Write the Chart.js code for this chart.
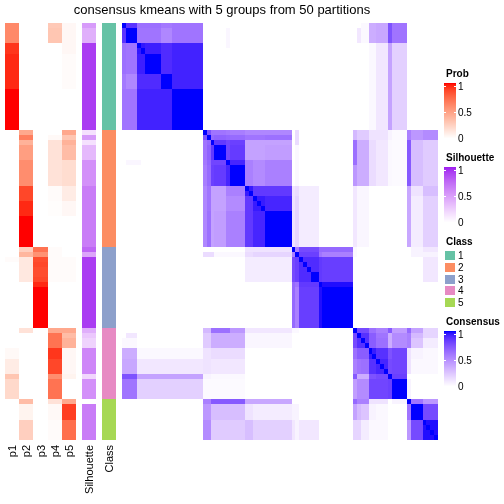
<!DOCTYPE html>
<html>
<head>
<meta charset="utf-8">
<script src="https://cdn.jsdelivr.net/npm/chart.js@4.4.0/dist/chart.umd.min.js"></script>
<style>
  html, body { margin: 0; padding: 0; background: #fff; }
</style>
</head>
<body>
<canvas id="chart" width="504" height="504"></canvas>
<script>
// ---- data ----
const titleText = 'consensus kmeans with 5 groups from 50 partitions';
const classSizes = [21, 23, 16, 14, 8];
const classLabels = ['1', '2', '3', '4', '5'];
const classColors = ['#66C2A5', '#FC8D62', '#8DA0CB', '#E78AC3', '#A6D854'];
const annLabels = ['p1', 'p2', 'p3', 'p4', 'p5', 'Silhouette', 'Class'];
const legendTicks = [0, 0.5, 1];

// sub-groups of consecutive samples (same order as the matrix)
const groupSizes = [1, 3, 1, 1, 4, 3, 8,  1, 1, 1, 3, 1, 4, 2, 3, 7,  1, 1, 1, 1, 1, 2, 1, 8,  1, 1, 1, 1, 2, 3, 1, 4,  1, 3, 4];

// consensus between sub-groups, lower triangle (row g holds groups 0..g)
const groupConsensus = [
  [1],
  [0.87, 1],
  [0.62, 0.6, 1],
  [0.62, 0.6, 0.96, 1],
  [0.62, 0.6, 0.94, 0.94, 1],
  [0.58, 0.52, 0.9, 0.9, 0.9, 1],
  [0.6, 0.6, 0.93, 0.93, 0.93, 0.93, 1],
  [0, 0, 0, 0, 0, 0, 0, 1],
  [0, 0, 0, 0, 0, 0, 0, 0.75, 1],
  [0, 0, 0, 0, 0, 0, 0, 0.6, 0.65, 1],
  [0, 0, 0, 0, 0, 0, 0, 0.6, 0.68, 0.85, 1],
  [0, 0.04, 0.04, 0, 0, 0, 0, 0.58, 0.66, 0.8, 0.8, 1],
  [0, 0, 0, 0, 0, 0, 0, 0.56, 0.64, 0.82, 0.84, 0.92, 1],
  [0, 0, 0, 0, 0, 0, 0, 0.52, 0.6, 0.4, 0.4, 0.55, 0.55, 0.95],
  [0, 0, 0, 0, 0, 0, 0, 0.52, 0.6, 0.4, 0.4, 0.5, 0.5, 0.85, 0.95],
  [0, 0, 0, 0, 0, 0, 0, 0.52, 0.62, 0.4, 0.42, 0.55, 0.55, 0.85, 0.92, 1],
  [0, 0, 0, 0, 0, 0, 0, 0, 0, 0, 0, 0, 0, 0.12, 0.12, 0.12, 1],
  [0, 0, 0, 0, 0, 0, 0, 0.15, 0.15, 0.15, 0.03, 0.03, 0.03, 0.15, 0.18, 0.18, 0.55, 1],
  [0, 0, 0, 0, 0, 0, 0, 0, 0, 0, 0, 0, 0, 0.08, 0.08, 0.08, 0.78, 0.82, 1],
  [0, 0, 0, 0, 0, 0, 0, 0, 0, 0, 0, 0, 0, 0.08, 0.08, 0.08, 0.78, 0.82, 0.9, 1],
  [0, 0, 0, 0, 0, 0, 0, 0, 0, 0, 0, 0, 0, 0.08, 0.08, 0.08, 0.78, 0.82, 0.9, 0.9, 1],
  [0, 0, 0, 0, 0, 0, 0, 0, 0, 0, 0, 0, 0, 0.08, 0.08, 0.08, 0.78, 0.82, 0.9, 0.9, 0.9, 1],
  [0, 0, 0, 0, 0, 0, 0, 0, 0, 0, 0, 0, 0, 0, 0, 0, 0.65, 0.6, 0.85, 0.85, 0.85, 0.85, 1],
  [0, 0, 0, 0, 0, 0, 0, 0, 0, 0, 0, 0, 0, 0, 0, 0, 0.65, 0.55, 0.83, 0.83, 0.83, 0.83, 0.98, 1],
  [0, 0, 0, 0, 0, 0, 0, 0.3, 0.3, 0.62, 0.62, 0.62, 0.45, 0.1, 0.1, 0.1, 0.03, 0.03, 0, 0, 0, 0, 0, 0, 1],
  [0, 0.1, 0, 0, 0, 0, 0, 0.22, 0.22, 0.35, 0.35, 0.35, 0.35, 0.04, 0.04, 0.04, 0, 0, 0, 0, 0, 0, 0, 0, 0.78, 1],
  [0.03, 0.03, 0, 0, 0, 0, 0, 0.22, 0.22, 0.35, 0.35, 0.35, 0.35, 0.04, 0.04, 0.04, 0, 0, 0, 0, 0, 0, 0, 0, 0.78, 0.88, 1],
  [0.03, 0.03, 0, 0, 0, 0, 0, 0.22, 0.22, 0.35, 0.35, 0.35, 0.35, 0.04, 0.04, 0.04, 0, 0, 0, 0, 0, 0, 0, 0, 0.78, 0.88, 0.88, 1],
  [0.35, 0.35, 0.03, 0.03, 0.03, 0.03, 0.03, 0.12, 0.12, 0.15, 0.15, 0.15, 0.15, 0, 0, 0, 0, 0, 0, 0, 0, 0, 0, 0, 0.62, 0.7, 0.7, 0.7, 0.95],
  [0.38, 0.38, 0.1, 0.1, 0.1, 0.1, 0.1, 0.12, 0.12, 0.1, 0.1, 0.1, 0.1, 0, 0, 0, 0, 0, 0, 0, 0, 0, 0, 0, 0.55, 0.6, 0.62, 0.62, 0.88, 0.92],
  [0.75, 0.75, 0.4, 0.4, 0.4, 0.4, 0.4, 0.05, 0.05, 0.03, 0.03, 0.03, 0.03, 0, 0, 0, 0, 0, 0, 0, 0, 0, 0, 0, 0.72, 0.35, 0.35, 0.35, 0.75, 0.78, 1],
  [0.6, 0.6, 0.2, 0.2, 0.2, 0.2, 0.2, 0.02, 0.02, 0.02, 0.02, 0.02, 0.02, 0, 0, 0, 0, 0, 0, 0, 0, 0, 0, 0, 0.42, 0.5, 0.5, 0.5, 0.8, 0.8, 0.82, 1],
  [0, 0, 0, 0, 0, 0, 0, 0.55, 0.55, 0.72, 0.72, 0.72, 0.72, 0.38, 0.38, 0.38, 0, 0, 0, 0, 0, 0, 0, 0, 0.65, 0.55, 0.55, 0.55, 0.12, 0.12, 0, 0.05, 1],
  [0, 0, 0, 0, 0, 0, 0, 0.45, 0.45, 0.28, 0.28, 0.28, 0.28, 0.12, 0.08, 0.08, 0.05, 0.05, 0, 0, 0, 0, 0, 0, 0.4, 0.3, 0.25, 0.25, 0.05, 0.03, 0, 0, 0.6, 1],
  [0, 0, 0, 0, 0, 0, 0, 0.5, 0.5, 0.22, 0.22, 0.22, 0.22, 0.28, 0.2, 0.2, 0.1, 0.05, 0.1, 0.1, 0.1, 0.1, 0, 0, 0.18, 0.18, 0.08, 0.08, 0.03, 0.03, 0, 0, 0.45, 0.78, 0.98]
];

// class membership probabilities per sample
const p1 = [0.6, 0.6, 0.6, 0.6, 0.92, 0.92, 0.95, 0.95, 0.95, 0.95, 0.95, 0.95, 0.95, 1, 1, 1, 1, 1, 1, 1, 1,
  0, 0, 0, 0, 0, 0, 0, 0, 0, 0, 0, 0, 0, 0, 0, 0, 0, 0, 0, 0, 0, 0, 0,
  0, 0, 0.02, 0, 0, 0, 0, 0, 0, 0, 0, 0, 0, 0, 0, 0,
  0, 0, 0, 0, 0.03, 0.03, 0.1, 0.1, 0.1, 0.3, 0.2, 0.2, 0.2, 0.2,
  0, 0, 0, 0, 0, 0, 0, 0];
const p2 = [0, 0, 0, 0, 0, 0, 0, 0, 0, 0, 0, 0, 0, 0, 0, 0, 0, 0, 0, 0, 0,
  0.45, 0.65, 0.4, 0.5, 0.5, 0.5, 0.58, 0.58, 0.58, 0.58, 0.58, 0.87, 0.87, 0.87, 0.95, 0.95, 0.95, 1, 1, 1, 1, 1, 1,
  0.25, 0.38, 0.12, 0.12, 0.12, 0.12, 0.12, 0, 0, 0, 0, 0, 0, 0, 0, 0,
  0.15, 0, 0, 0, 0, 0, 0, 0, 0, 0, 0, 0, 0, 0,
  0.35, 0.06, 0.06, 0.06, 0.25, 0.25, 0.25, 0.25];
const p3 = [0, 0, 0, 0, 0, 0, 0, 0, 0, 0, 0, 0, 0, 0, 0, 0, 0, 0, 0, 0, 0,
  0, 0, 0, 0, 0, 0, 0, 0, 0, 0, 0, 0, 0, 0, 0, 0, 0, 0, 0, 0, 0, 0, 0,
  0.7, 0.56, 0.85, 0.87, 0.85, 0.85, 0.87, 0.95, 1, 1, 1, 1, 1, 1, 1, 1,
  0, 0, 0, 0, 0, 0, 0, 0, 0, 0, 0, 0, 0, 0,
  0, 0, 0, 0, 0, 0, 0, 0];
const p4 = [0.28, 0.3, 0.3, 0.3, 0, 0, 0, 0, 0, 0, 0, 0, 0, 0, 0, 0, 0, 0, 0, 0, 0,
  0, 0.03, 0.15, 0.15, 0.15, 0.15, 0.15, 0.15, 0.15, 0.15, 0.15, 0.02, 0.02, 0.02, 0.01, 0.01, 0.01, 0, 0, 0, 0, 0, 0,
  0.02, 0.02, 0.02, 0.02, 0.02, 0.02, 0.02, 0, 0, 0, 0, 0, 0, 0, 0, 0,
  0.45, 0.7, 0.7, 0.7, 0.92, 0.92, 0.87, 0.87, 0.87, 0.58, 0.7, 0.7, 0.7, 0.7,
  0.15, 0.03, 0.03, 0.03, 0.02, 0.02, 0.02, 0.02];
const p5 = [0.04, 0.04, 0.04, 0.04, 0.04, 0.04, 0.02, 0.02, 0.02, 0.02, 0.02, 0.02, 0.02, 0, 0, 0, 0, 0, 0, 0, 0,
  0.45, 0.3, 0.4, 0.35, 0.35, 0.35, 0.18, 0.18, 0.18, 0.18, 0.18, 0.1, 0.1, 0.1, 0.04, 0.04, 0.04, 0, 0, 0, 0, 0, 0,
  0, 0, 0.02, 0.02, 0.02, 0.02, 0.02, 0, 0, 0, 0, 0, 0, 0, 0, 0,
  0.45, 0.35, 0.4, 0.4, 0.04, 0.04, 0.04, 0.04, 0.04, 0.06, 0, 0, 0, 0,
  0.45, 0.9, 0.9, 0.9, 0.72, 0.72, 0.72, 0.72];
const silhouette = [0.5, 0.4, 0.4, 0.4, 0.92, 0.92, 0.92, 0.92, 0.92, 0.92, 0.92, 0.92, 0.92, 0.92, 0.92, 0.92, 0.92, 0.92, 0.92, 0.92, 0.92,
  0.15, 0.5, 0.15, 0.35, 0.35, 0.35, 0.55, 0.55, 0.55, 0.55, 0.55, 0.65, 0.65, 0.65, 0.65, 0.65, 0.65, 0.65, 0.65, 0.65, 0.65, 0.65, 0.65,
  0.75, 0.45, 0.92, 0.92, 0.92, 0.92, 0.92, 0.92, 0.92, 0.92, 0.92, 0.92, 0.92, 0.92, 0.92, 0.92,
  0.4, 0.28, 0.22, 0.22, 0.6, 0.6, 0.6, 0.6, 0.6, 0.2, 0.55, 0.55, 0.55, 0.55,
  0, 0.65, 0.65, 0.65, 0.65, 0.65, 0.65, 0.65];

// ---- helpers ----
const N = classSizes.reduce((a, b) => a + b, 0);
const sampleGroup = [];
groupSizes.forEach((s, g) => { for (let k = 0; k < s; k++) sampleGroup.push(g); });
const sampleClass = [];
classSizes.forEach((s, c) => { for (let k = 0; k < s; k++) sampleClass.push(c); });

function consensusAt(i, j) {
    if (i === j) return 1;
    const a = sampleGroup[i], b = sampleGroup[j];
    return a >= b ? groupConsensus[a][b] : groupConsensus[b][a];
}

// colour ramps interpolated in LAB like colorRamp2
function toLin(c) { c /= 255; return c <= 0.04045 ? c / 12.92 : Math.pow((c + 0.055) / 1.055, 2.4); }
function toSrgb(v) {
    v = Math.max(0, Math.min(1, v));
    const s = v <= 0.0031308 ? 12.92 * v : 1.055 * Math.pow(v, 1 / 2.4) - 0.055;
    return Math.round(s * 255);
}
function hexToLab(hex) {
    const r = toLin(parseInt(hex.slice(1, 3), 16)), g = toLin(parseInt(hex.slice(3, 5), 16)), b = toLin(parseInt(hex.slice(5, 7), 16));
    const X = (0.4124 * r + 0.3576 * g + 0.1805 * b) / 0.95047;
    const Y = 0.2126 * r + 0.7152 * g + 0.0722 * b;
    const Z = (0.0193 * r + 0.1192 * g + 0.9505 * b) / 1.08883;
    const f = t => t > 0.008856 ? Math.cbrt(t) : 7.787 * t + 16 / 116;
    const fx = f(X), fy = f(Y), fz = f(Z);
    return [116 * fy - 16, 500 * (fx - fy), 200 * (fy - fz)];
}
function labToRgb(L, a, b) {
    const fy = (L + 16) / 116, fx = fy + a / 500, fz = fy - b / 200;
    const inv = t => t * t * t > 0.008856 ? t * t * t : (t - 16 / 116) / 7.787;
    const X = inv(fx) * 0.95047, Y = inv(fy), Z = inv(fz) * 1.08883;
    const r = 3.2406 * X - 1.5372 * Y - 0.4986 * Z;
    const g = -0.9689 * X + 1.8758 * Y + 0.0415 * Z;
    const bb = 0.0557 * X - 0.2040 * Y + 1.0570 * Z;
    return 'rgb(' + toSrgb(r) + ',' + toSrgb(g) + ',' + toSrgb(bb) + ')';
}
function makeRamp(hex) {
    const lo = hexToLab('#FFFFFF'), hi = hexToLab(hex);
    return v => {
        const t = Math.max(0, Math.min(1, v));
        return labToRgb(lo[0] + (hi[0] - lo[0]) * t, lo[1] + (hi[1] - lo[1]) * t, lo[2] + (hi[2] - lo[2]) * t);
    };
}
const probColor = makeRamp('#FF0000');
const silColor = makeRamp('#A020F0');
const consColor = makeRamp('#0000FF');

const FONT = '"Liberation Sans", Arial, sans-serif';

// ---- heatmap drawn through the chart scales ----
const heatmapPlugin = {
    id: 'heatmap',
    afterDraw(chart) {
        const ctx = chart.ctx;
        const xs = chart.scales.x, ys = chart.scales.y;
        const px = v => Math.round(xs.getPixelForValue(v));
        const py = v => Math.round(ys.getPixelForValue(v));
        ctx.save();

        // consensus matrix
        for (let i = 0; i < N; i++) {
            const y0 = py(i), y1 = py(i + 1);
            for (let j = 0; j < N; j++) {
                const v = consensusAt(i, j);
                if (v <= 0) continue;
                const x0 = px(j), x1 = px(j + 1);
                ctx.fillStyle = consColor(v);
                ctx.fillRect(x0, y0, x1 - x0, y1 - y0);
            }
        }

        // annotation columns on the left
        const cw = 14.2;
        const annCols = [
            { x: 5, vals: p1, col: probColor },
            { x: 5 + cw, vals: p2, col: probColor },
            { x: 5 + 2 * cw, vals: p3, col: probColor },
            { x: 5 + 3 * cw, vals: p4, col: probColor },
            { x: 5 + 4 * cw, vals: p5, col: probColor },
            { x: 82, vals: silhouette, col: silColor },
            { x: 102, vals: null, col: null }
        ];
        annCols.forEach((c, k) => {
            const x0 = Math.round(c.x), x1 = Math.round(c.x + (k < 5 ? cw : 14));
            for (let i = 0; i < N; i++) {
                const y0 = py(i), y1 = py(i + 1);
                ctx.fillStyle = c.vals ? c.col(c.vals[i]) : classColors[sampleClass[i]];
                ctx.fillRect(x0, y0, x1 - x0, y1 - y0);
            }
            // rotated column label
            ctx.save();
            ctx.translate((x0 + x1) / 2 + 1, py(N) + 5);
            ctx.rotate(-Math.PI / 2);
            ctx.fillStyle = '#000';
            ctx.font = '11px ' + FONT;
            ctx.textAlign = 'right';
            ctx.textBaseline = 'middle';
            ctx.fillText(annLabels[k], 0, 0);
            ctx.restore();
        });

        // title
        ctx.fillStyle = '#000';
        ctx.font = '13px ' + FONT;
        ctx.textAlign = 'center';
        ctx.textBaseline = 'alphabetic';
        ctx.fillText(titleText, 222, 14);

        // legends
        const lx = 445, lw = 10;
        function gradLegend(title, top, ramp) {
            ctx.font = 'bold 10px ' + FONT;
            ctx.textAlign = 'left';
            ctx.textBaseline = 'middle';
            ctx.fillStyle = '#000';
            ctx.fillText(title, lx + 1, top);
            const gx = lx - 1, gw = lw + 2;
            const b0 = top + 9, b1 = top + 65;
            for (let y = b0; y < b1; y++) {
                ctx.fillStyle = ramp(1 - (y - b0) / (b1 - b0 - 1));
                ctx.fillRect(gx, y, gw, 1);
            }
            const yv = v => b1 - 2 - v * (b1 - b0 - 4) + 1;
            ctx.font = '10px ' + FONT;
            legendTicks.forEach(v => {
                const y = Math.round(yv(v));
                ctx.fillStyle = '#fff';
                ctx.fillRect(gx, y, 2, 1);
                ctx.fillRect(gx + gw - 2, y, 2, 1);
                ctx.fillStyle = '#000';
                ctx.fillText(String(v), lx + 13, y + 1);
            });
        }
        gradLegend('Prob', 74, probColor);
        gradLegend('Silhouette', 158, silColor);
        gradLegend('Consensus', 322, consColor);

        ctx.font = 'bold 10px ' + FONT;
        ctx.fillStyle = '#000';
        ctx.fillText('Class', lx + 1, 242);
        ctx.font = '10px ' + FONT;
        classLabels.forEach((lab, k) => {
            const y = 251 + k * 11.8;
            ctx.fillStyle = classColors[k];
            ctx.fillRect(lx, Math.round(y), lw, 9);
            ctx.fillStyle = '#000';
            ctx.fillText(lab, lx + 13, Math.round(y) + 5);
        });

        ctx.restore();
    }
};

new Chart(document.getElementById('chart'), {
    type: 'scatter',
    data: { datasets: [] },
    options: {
        responsive: false,
        animation: false,
        layout: { padding: { left: 122, top: 23, right: 66, bottom: 64 } },
        plugins: {
            legend: { display: false },
            tooltip: { enabled: false },
            title: { display: false }
        },
        scales: {
            x: { type: 'linear', min: 0, max: N, display: false },
            y: { type: 'linear', min: 0, max: N, reverse: true, display: false }
        }
    },
    plugins: [heatmapPlugin]
});
</script>
</body>
</html>
